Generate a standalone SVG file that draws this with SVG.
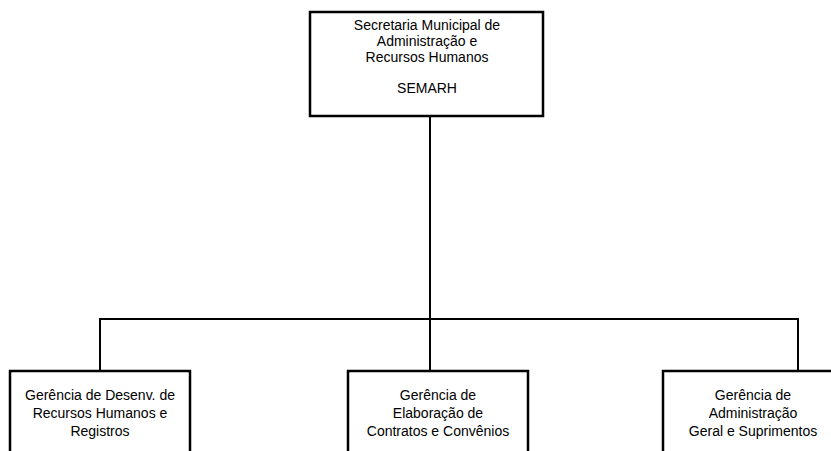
<svg xmlns="http://www.w3.org/2000/svg" width="831" height="451" viewBox="0 0 831 451">
<style>
.box{fill:#fff;stroke:#000;stroke-width:2.5}
.ln{fill:none;stroke:#000;stroke-width:2}
text{font-family:"Liberation Sans",Arial,sans-serif;font-size:14px;fill:#000;text-anchor:middle}
</style>
<rect width="831" height="451" fill="#fff"/>
<g id="connectors">
<path class="ln" d="M430 116 V371"/>
<path class="ln" d="M100 371 V319 H798 V371"/>
</g>
<g id="semarh">
<rect class="box" x="310" y="12" width="233" height="104"/>
<text x="427" y="30">Secretaria Municipal de</text>
<text x="427" y="46">Administração e</text>
<text x="427" y="62">Recursos Humanos</text>
<text x="427" y="93">SEMARH</text>
</g>
<g id="ger-rh">
<rect class="box" x="10" y="371" width="180" height="90"/>
<text x="100" y="400">Gerência de Desenv. de</text>
<text x="100" y="418">Recursos Humanos e</text>
<text x="100" y="436">Registros</text>
</g>
<g id="ger-contratos">
<rect class="box" x="348" y="371" width="180" height="90"/>
<text x="438" y="400">Gerência de</text>
<text x="438" y="418">Elaboração de</text>
<text x="438" y="436">Contratos e Convênios</text>
</g>
<g id="ger-admin">
<rect class="box" x="663" y="371" width="190" height="90"/>
<text x="753" y="400">Gerência de</text>
<text x="753" y="418">Administração</text>
<text x="753" y="436">Geral e Suprimentos</text>
</g>
</svg>
